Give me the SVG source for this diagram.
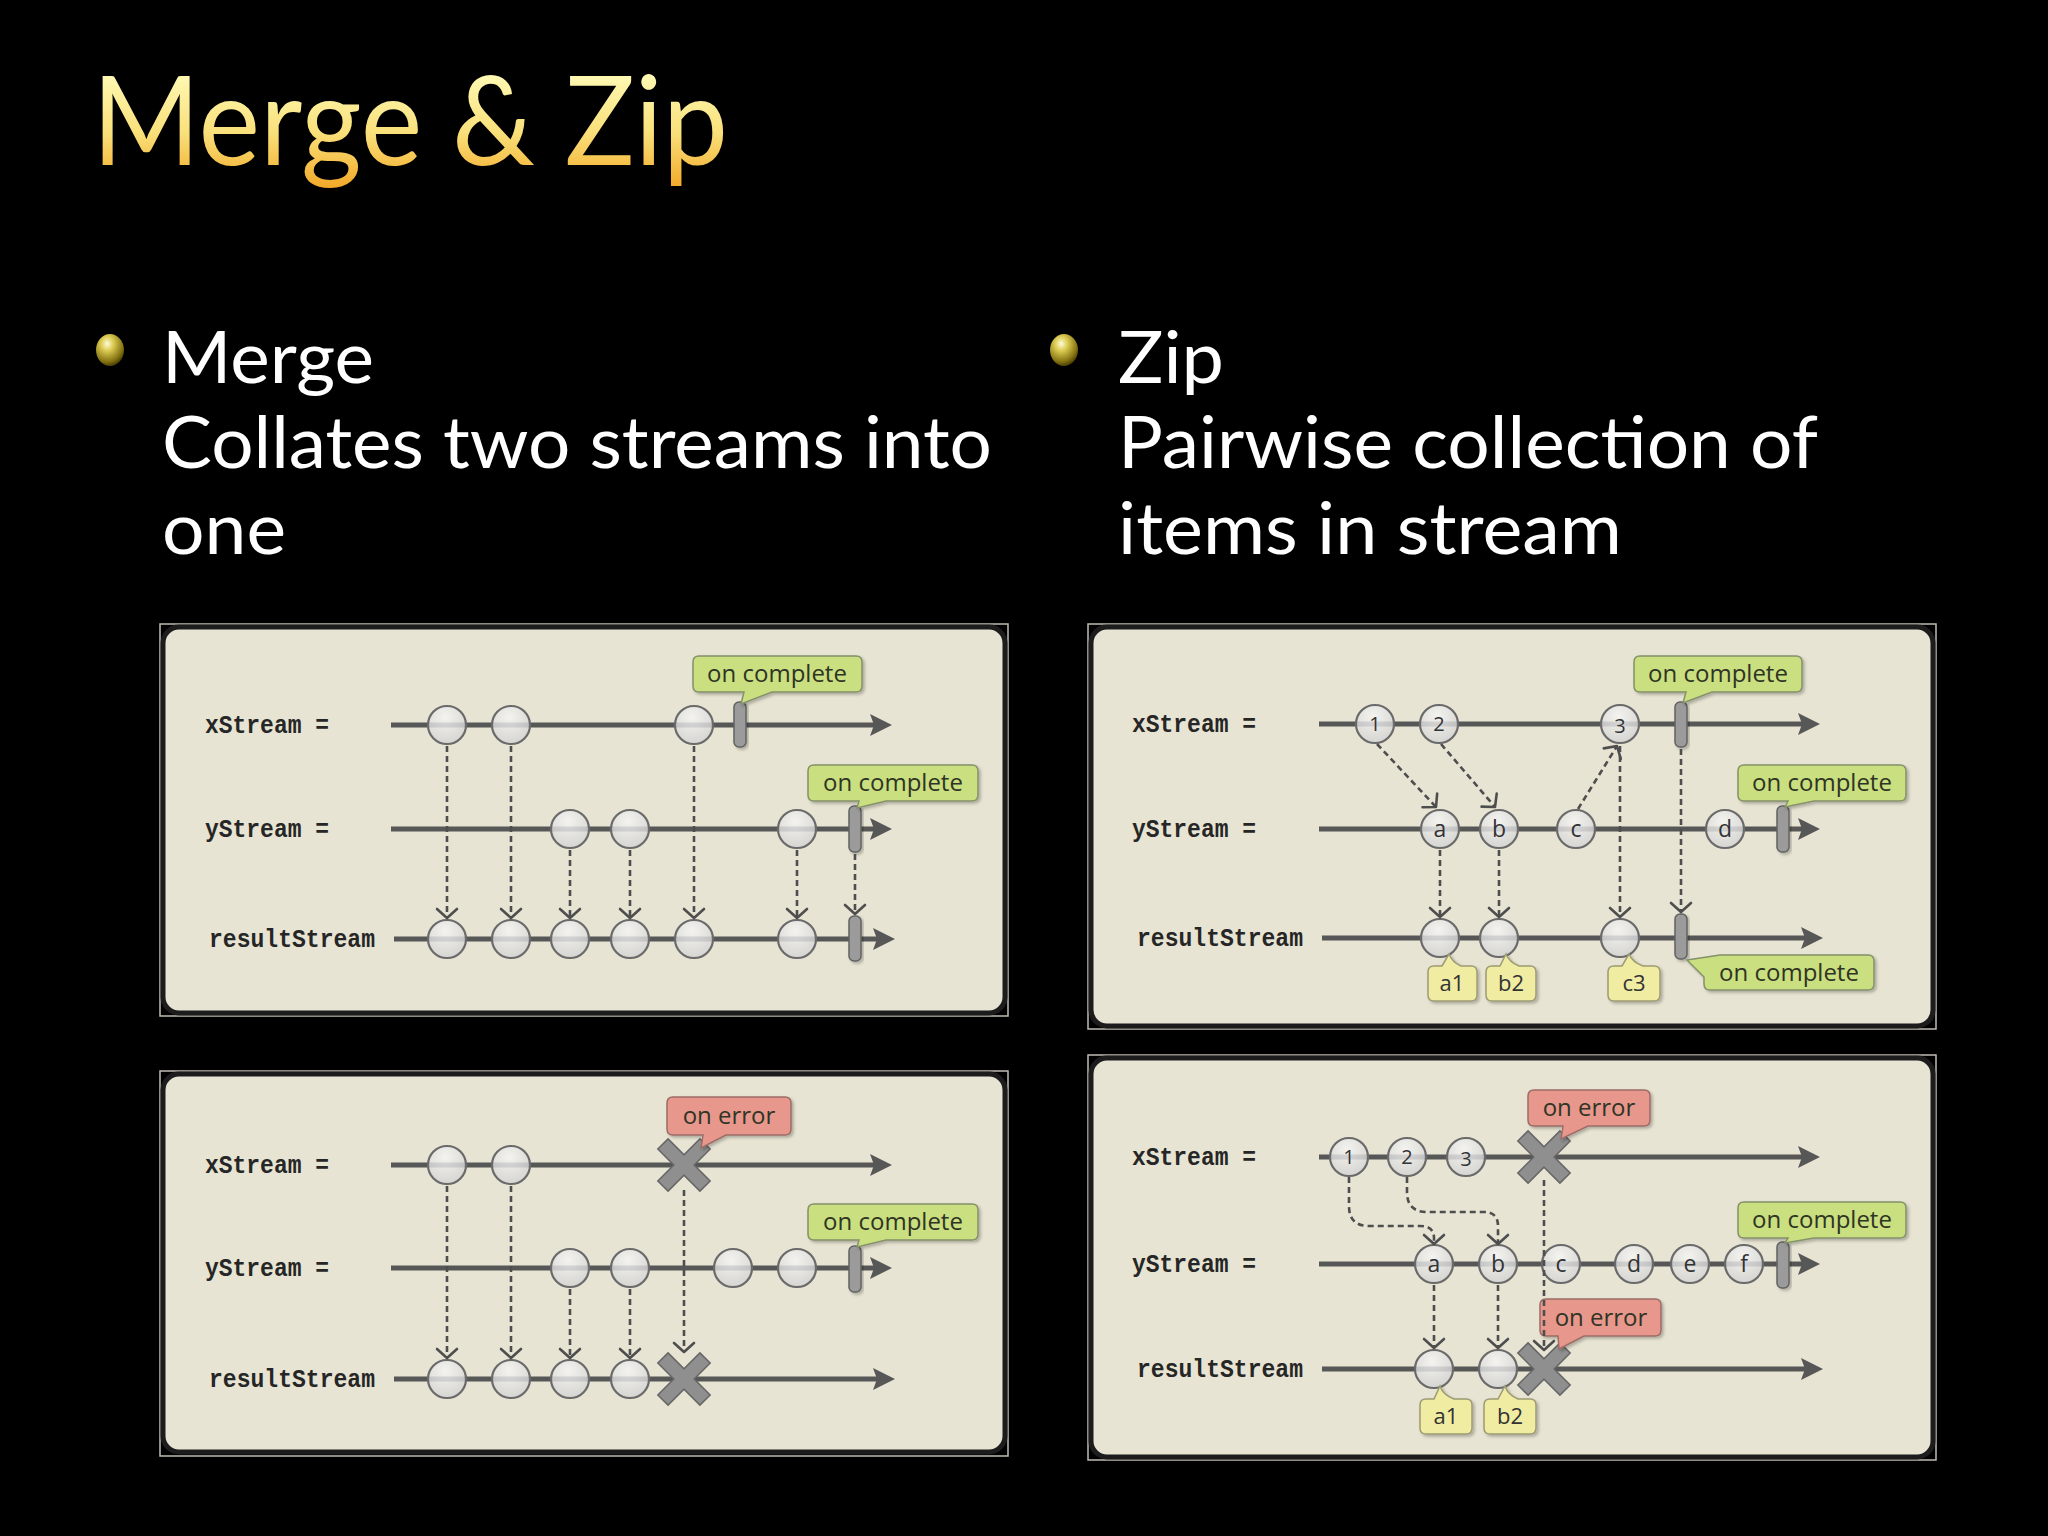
<svg xmlns="http://www.w3.org/2000/svg" xmlns:xlink="http://www.w3.org/1999/xlink" width="2048" height="1536" viewBox="0 0 2048 1536">
<defs>
<style>
.frame{fill:none;stroke:#bebcb3;stroke-width:1.5}
.panel{fill:#e7e4d3;stroke:#1c1c1c;stroke-width:5}
.stream{fill:none;stroke:#575757;stroke-width:5;marker-end:url(#arr)}
.dash{fill:none;stroke:#4e4e4e;stroke-width:2.6;stroke-dasharray:6 4;marker-end:url(#chev)}
.ev{fill:url(#evg);fill-opacity:0.82;stroke:#6a6a6a;stroke-width:2.2}
.bar{fill:#9b9b9b;stroke:#626262;stroke-width:1.5;filter:url(#sh)}
.co-g{fill:#cadf7f;stroke:#84916a;stroke-width:1.5;filter:url(#sh)}
.co-r{fill:#e8978d;stroke:#9c6c66;stroke-width:1.5;filter:url(#sh)}
.co-y{fill:#f0eda3;stroke:#9d9b74;stroke-width:1.5;filter:url(#sh)}
.lbl{font-family:"Liberation Mono","DejaVu Sans Mono",monospace;font-size:25px;font-weight:bold;fill:#262626}
.ct{font-family:"Open Sans","Liberation Sans",sans-serif;font-size:24px;fill:#2f3424;text-anchor:middle}
.yt{font-family:"Open Sans","Liberation Sans",sans-serif;font-size:22px;fill:#333;text-anchor:middle}
.et{font-family:"Open Sans","Liberation Sans",sans-serif;font-size:23px;fill:#333;text-anchor:middle}
.nt{font-family:"Open Sans","Liberation Sans",sans-serif;font-size:20px;fill:#333;text-anchor:middle}
.bt{font-family:Lato,"Open Sans","Liberation Sans",sans-serif;font-size:72px;fill:#ffffff}
.xo{fill:#8f8f8f;stroke:#666;stroke-width:3}
.xi{fill:#8f8f8f}
</style>
<linearGradient id="tg" x1="0" y1="70" x2="0" y2="195" gradientUnits="userSpaceOnUse">
<stop offset="0" stop-color="#fffbb8"/>
<stop offset="0.5" stop-color="#f9e07a"/>
<stop offset="1" stop-color="#f2a21e"/>
</linearGradient>
<radialGradient id="bg" cx="0.4" cy="0.3" r="0.75">
<stop offset="0" stop-color="#fffbd6"/>
<stop offset="0.3" stop-color="#dccb52"/>
<stop offset="0.75" stop-color="#857412"/>
<stop offset="1" stop-color="#3a3200"/>
</radialGradient>
<radialGradient id="evg" cx="0.45" cy="0.3" r="0.75">
<stop offset="0" stop-color="#f6f6f6"/>
<stop offset="1" stop-color="#cfcfcf"/>
</radialGradient>
<filter id="sh" x="-20%" y="-20%" width="140%" height="160%">
<feDropShadow dx="2" dy="2" stdDeviation="1.5" flood-color="#000" flood-opacity="0.25"/>
</filter>
<marker id="arr" markerUnits="userSpaceOnUse" markerWidth="24" markerHeight="24" viewBox="-12 -12 24 24" refX="0" refY="0" orient="auto">
<path d="M10,0 L-12,-11 L-8,0 L-12,11 Z" fill="#575757"/>
</marker>
<marker id="chev" markerUnits="userSpaceOnUse" markerWidth="26" markerHeight="26" viewBox="-13 -13 26 26" refX="0" refY="0" orient="auto">
<path d="M-9,-10 L0,0 L-9,10" fill="none" stroke="#4e4e4e" stroke-width="2.6" stroke-linejoin="round" stroke-linecap="round"/>
</marker>
<g id="xmark">
<rect class="xo" x="-6.5" y="-29" width="13" height="58" transform="rotate(45)"/>
<rect class="xo" x="-6.5" y="-29" width="13" height="58" transform="rotate(-45)"/>
<rect class="xi" x="-6.5" y="-29" width="13" height="58" transform="rotate(45)"/>
<rect class="xi" x="-6.5" y="-29" width="13" height="58" transform="rotate(-45)"/>
</g>
</defs>

<rect x="0" y="0" width="2048" height="1536" fill="#000"/>

<g id="title">
<text x="92" y="165" font-family="Lato,'Open Sans','Liberation Sans',sans-serif" font-size="125" fill="url(#tg)" textLength="636" lengthAdjust="spacingAndGlyphs">Merge &amp; Zip</text>
</g>

<g id="bullet-merge">
<ellipse cx="110" cy="350" rx="14" ry="16" fill="url(#bg)"/>
<text class="bt" x="162" y="383" textLength="212" lengthAdjust="spacingAndGlyphs">Merge</text>
<text class="bt" x="162" y="468" textLength="830" lengthAdjust="spacingAndGlyphs">Collates two streams into</text>
<text class="bt" x="162" y="554" textLength="124" lengthAdjust="spacingAndGlyphs">one</text>
</g>
<g id="bullet-zip">
<ellipse cx="1064" cy="350" rx="14" ry="16" fill="url(#bg)"/>
<text class="bt" x="1118" y="383" textLength="106" lengthAdjust="spacingAndGlyphs">Zip</text>
<text class="bt" x="1118" y="468" textLength="700" lengthAdjust="spacingAndGlyphs">Pairwise collection of</text>
<text class="bt" x="1118" y="554" textLength="504" lengthAdjust="spacingAndGlyphs">items in stream</text>
</g>

<!-- ============ Panel A: merge complete ============ -->
<g id="merge-complete">
<rect class="frame" x="160" y="624" width="848" height="392"/>
<rect class="panel" x="163" y="627" width="842" height="386" rx="16"/>
<text class="lbl" x="205" y="733" textLength="124" lengthAdjust="spacingAndGlyphs">xStream =</text>
<text class="lbl" x="205" y="837" textLength="124" lengthAdjust="spacingAndGlyphs">yStream =</text>
<text class="lbl" x="209" y="947" textLength="166" lengthAdjust="spacingAndGlyphs">resultStream</text>
<g id="mc-streams">
<path class="stream" d="M391,725 H882"/>
<path class="stream" d="M391,829 H882"/>
<path class="stream" d="M394,939 H885"/>
</g>
<g id="mc-x1"><circle class="ev" cx="447" cy="725" r="19"/></g>
<g id="mc-x2"><circle class="ev" cx="511" cy="725" r="19"/></g>
<g id="mc-x3"><circle class="ev" cx="694" cy="725" r="19"/></g>
<g id="mc-xend"><rect class="bar" x="734" y="702" width="12" height="45" rx="5"/></g>
<g id="mc-y1"><circle class="ev" cx="570" cy="829" r="19"/></g>
<g id="mc-y2"><circle class="ev" cx="630" cy="829" r="19"/></g>
<g id="mc-y3"><circle class="ev" cx="797" cy="829" r="19"/></g>
<g id="mc-yend"><rect class="bar" x="849" y="806" width="12" height="46" rx="5"/></g>
<g id="mc-r1"><circle class="ev" cx="447" cy="939" r="19"/></g>
<g id="mc-r2"><circle class="ev" cx="511" cy="939" r="19"/></g>
<g id="mc-r3"><circle class="ev" cx="570" cy="939" r="19"/></g>
<g id="mc-r4"><circle class="ev" cx="630" cy="939" r="19"/></g>
<g id="mc-r5"><circle class="ev" cx="694" cy="939" r="19"/></g>
<g id="mc-r6"><circle class="ev" cx="797" cy="939" r="19"/></g>
<g id="mc-rend"><rect class="bar" x="849" y="916" width="12" height="45" rx="5"/></g>
<g id="mc-cx">
<path class="co-g" d="M699,656 H856 Q862,656 862,662 V686 Q862,692 856,692 H772 L741,704 L744,692 H699 Q693,692 693,686 V662 Q693,656 699,656 Z"/>
<text class="ct" x="777" y="682">on complete</text>
</g>
<g id="mc-cy">
<path class="co-g" d="M814,765 H972 Q978,765 978,771 V795 Q978,801 972,801 H886 L857,808 L859,801 H814 Q808,801 808,795 V771 Q808,765 814,765 Z"/>
<text class="ct" x="893" y="791">on complete</text>
</g>
<g id="mc-connectors">
<path class="dash" d="M447,746 V918"/>
<path class="dash" d="M511,746 V918"/>
<path class="dash" d="M694,746 V918"/>
<path class="dash" d="M570,850 V918"/>
<path class="dash" d="M630,850 V918"/>
<path class="dash" d="M797,850 V918"/>
<path class="dash" d="M855,854 V914"/>
</g>
</g>

<!-- ============ Panel C: merge error ============ -->
<g id="merge-error">
<rect class="frame" x="160" y="1071" width="848" height="385"/>
<rect class="panel" x="163" y="1074" width="842" height="378" rx="16"/>
<text class="lbl" x="205" y="1173" textLength="124" lengthAdjust="spacingAndGlyphs">xStream =</text>
<text class="lbl" x="205" y="1276" textLength="124" lengthAdjust="spacingAndGlyphs">yStream =</text>
<text class="lbl" x="209" y="1387" textLength="166" lengthAdjust="spacingAndGlyphs">resultStream</text>
<g id="me-streams">
<path class="stream" d="M391,1165 H882"/>
<path class="stream" d="M391,1268 H882"/>
<path class="stream" d="M394,1379 H885"/>
</g>
<g id="me-x1"><circle class="ev" cx="447" cy="1165" r="19"/></g>
<g id="me-x2"><circle class="ev" cx="511" cy="1165" r="19"/></g>
<g id="me-xerr"><use xlink:href="#xmark" href="#xmark" transform="translate(684,1165)"/></g>
<g id="me-y1"><circle class="ev" cx="570" cy="1268" r="19"/></g>
<g id="me-y2"><circle class="ev" cx="630" cy="1268" r="19"/></g>
<g id="me-y3"><circle class="ev" cx="733" cy="1268" r="19"/></g>
<g id="me-y4"><circle class="ev" cx="797" cy="1268" r="19"/></g>
<g id="me-yend"><rect class="bar" x="849" y="1246" width="12" height="46" rx="5"/></g>
<g id="me-r1"><circle class="ev" cx="447" cy="1379" r="19"/></g>
<g id="me-r2"><circle class="ev" cx="511" cy="1379" r="19"/></g>
<g id="me-r3"><circle class="ev" cx="570" cy="1379" r="19"/></g>
<g id="me-r4"><circle class="ev" cx="630" cy="1379" r="19"/></g>
<g id="me-rerr"><use xlink:href="#xmark" href="#xmark" transform="translate(684,1379)"/></g>
<g id="me-cerr">
<path class="co-r" d="M673,1097 H785 Q791,1097 791,1103 V1129 Q791,1135 785,1135 H726 L701,1148 L703,1135 H673 Q667,1135 667,1129 V1103 Q667,1097 673,1097 Z"/>
<text class="ct" x="729" y="1124">on error</text>
</g>
<g id="me-cy">
<path class="co-g" d="M814,1204 H972 Q978,1204 978,1210 V1234 Q978,1240 972,1240 H886 L857,1247 L859,1240 H814 Q808,1240 808,1234 V1210 Q808,1204 814,1204 Z"/>
<text class="ct" x="893" y="1230">on complete</text>
</g>
<g id="me-connectors">
<path class="dash" d="M447,1186 V1358"/>
<path class="dash" d="M511,1186 V1358"/>
<path class="dash" d="M570,1289 V1358"/>
<path class="dash" d="M630,1289 V1358"/>
<path class="dash" d="M684,1190 V1352"/>
</g>
</g>

<!-- ============ Panel B: zip complete ============ -->
<g id="zip-complete">
<rect class="frame" x="1088" y="624" width="848" height="405"/>
<rect class="panel" x="1091" y="627" width="842" height="399" rx="16"/>
<text class="lbl" x="1132" y="732" textLength="124" lengthAdjust="spacingAndGlyphs">xStream =</text>
<text class="lbl" x="1132" y="837" textLength="124" lengthAdjust="spacingAndGlyphs">yStream =</text>
<text class="lbl" x="1137" y="946" textLength="166" lengthAdjust="spacingAndGlyphs">resultStream</text>
<g id="zc-streams">
<path class="stream" d="M1319,724 H1810"/>
<path class="stream" d="M1319,829 H1810"/>
<path class="stream" d="M1322,938 H1813"/>
</g>
<g id="zc-x1"><circle class="ev" cx="1375" cy="724" r="19"/><text class="nt" x="1375" y="731">1</text></g>
<g id="zc-x2"><circle class="ev" cx="1439" cy="724" r="19"/><text class="nt" x="1439" y="731">2</text></g>
<g id="zc-x3"><circle class="ev" cx="1620" cy="724" r="19"/><text class="nt" x="1620" y="733">3</text></g>
<g id="zc-xend"><rect class="bar" x="1675" y="702" width="12" height="45" rx="5"/></g>
<g id="zc-ya"><circle class="ev" cx="1440" cy="829" r="19"/><text class="et" x="1440" y="837">a</text></g>
<g id="zc-yb"><circle class="ev" cx="1499" cy="829" r="19"/><text class="et" x="1499" y="837">b</text></g>
<g id="zc-yc"><circle class="ev" cx="1576" cy="829" r="19"/><text class="et" x="1576" y="837">c</text></g>
<g id="zc-yd"><circle class="ev" cx="1725" cy="829" r="19"/><text class="et" x="1725" y="837">d</text></g>
<g id="zc-yend"><rect class="bar" x="1777" y="806" width="12" height="46" rx="5"/></g>
<g id="zc-r1"><circle class="ev" cx="1440" cy="938" r="19"/></g>
<g id="zc-r2"><circle class="ev" cx="1499" cy="938" r="19"/></g>
<g id="zc-r3"><circle class="ev" cx="1620" cy="938" r="19"/></g>
<g id="zc-rend"><rect class="bar" x="1675" y="914" width="12" height="45" rx="5"/></g>
<g id="zc-cx">
<path class="co-g" d="M1640,656 H1796 Q1802,656 1802,662 V686 Q1802,692 1796,692 H1712 L1683,703 L1686,692 H1640 Q1634,692 1634,686 V662 Q1634,656 1640,656 Z"/>
<text class="ct" x="1718" y="682">on complete</text>
</g>
<g id="zc-cy">
<path class="co-g" d="M1744,765 H1900 Q1906,765 1906,771 V795 Q1906,801 1900,801 H1814 L1785,807 L1788,801 H1744 Q1738,801 1738,795 V771 Q1738,765 1744,765 Z"/>
<text class="ct" x="1822" y="791">on complete</text>
</g>
<g id="zc-cr">
<path class="co-g" d="M1720,955 H1868 Q1874,955 1874,961 V984 Q1874,990 1868,990 H1710 Q1704,990 1704,984 V977 L1687,960 Z"/>
<text class="ct" x="1789" y="981">on complete</text>
</g>
<g id="zc-a1">
<path class="co-y" d="M1434,966 H1442 L1449,954 Q1452,962 1461,966 H1471 Q1477,966 1477,972 V995 Q1477,1001 1471,1001 H1434 Q1428,1001 1428,995 V972 Q1428,966 1434,966 Z"/>
<text class="yt" x="1452" y="991">a1</text>
</g>
<g id="zc-b2">
<path class="co-y" d="M1492,966 H1500 L1506,954 Q1509,962 1519,966 H1530 Q1536,966 1536,972 V995 Q1536,1001 1530,1001 H1492 Q1486,1001 1486,995 V972 Q1486,966 1492,966 Z"/>
<text class="yt" x="1511" y="991">b2</text>
</g>
<g id="zc-c3">
<path class="co-y" d="M1614,966 H1622 L1629,954 Q1632,962 1643,966 H1654 Q1660,966 1660,972 V995 Q1660,1001 1654,1001 H1614 Q1608,1001 1608,995 V972 Q1608,966 1614,966 Z"/>
<text class="yt" x="1634" y="991">c3</text>
</g>
<g id="zc-connectors">
<path class="dash" d="M1377,744 L1436,807"/>
<path class="dash" d="M1441,744 L1495,807"/>
<path class="dash" d="M1578,809 L1617,746"/>
<path class="dash" d="M1620,746 V917"/>
<path class="dash" d="M1681,749 V912"/>
<path class="dash" d="M1440,850 V917"/>
<path class="dash" d="M1499,850 V917"/>
</g>
</g>

<!-- ============ Panel D: zip error ============ -->
<g id="zip-error">
<rect class="frame" x="1088" y="1055" width="848" height="405"/>
<rect class="panel" x="1091" y="1058" width="842" height="399" rx="16"/>
<text class="lbl" x="1132" y="1165" textLength="124" lengthAdjust="spacingAndGlyphs">xStream =</text>
<text class="lbl" x="1132" y="1272" textLength="124" lengthAdjust="spacingAndGlyphs">yStream =</text>
<text class="lbl" x="1137" y="1377" textLength="166" lengthAdjust="spacingAndGlyphs">resultStream</text>
<g id="ze-streams">
<path class="stream" d="M1319,1157 H1810"/>
<path class="stream" d="M1319,1264 H1810"/>
<path class="stream" d="M1322,1369 H1813"/>
</g>
<g id="ze-x1"><circle class="ev" cx="1349" cy="1157" r="19"/><text class="nt" x="1349" y="1164">1</text></g>
<g id="ze-x2"><circle class="ev" cx="1407" cy="1157" r="19"/><text class="nt" x="1407" y="1164">2</text></g>
<g id="ze-x3"><circle class="ev" cx="1466" cy="1157" r="19"/><text class="nt" x="1466" y="1166">3</text></g>
<g id="ze-xerr"><use xlink:href="#xmark" href="#xmark" transform="translate(1544,1157)"/></g>
<g id="ze-ya"><circle class="ev" cx="1434" cy="1264" r="19"/><text class="et" x="1434" y="1272">a</text></g>
<g id="ze-yb"><circle class="ev" cx="1498" cy="1264" r="19"/><text class="et" x="1498" y="1272">b</text></g>
<g id="ze-yc"><circle class="ev" cx="1561" cy="1264" r="19"/><text class="et" x="1561" y="1272">c</text></g>
<g id="ze-yd"><circle class="ev" cx="1634" cy="1264" r="19"/><text class="et" x="1634" y="1272">d</text></g>
<g id="ze-ye"><circle class="ev" cx="1690" cy="1264" r="19"/><text class="et" x="1690" y="1272">e</text></g>
<g id="ze-yf"><circle class="ev" cx="1744" cy="1264" r="19"/><text class="et" x="1744" y="1272">f</text></g>
<g id="ze-yend"><rect class="bar" x="1777" y="1242" width="12" height="46" rx="5"/></g>
<g id="ze-r1"><circle class="ev" cx="1434" cy="1369" r="19"/></g>
<g id="ze-r2"><circle class="ev" cx="1498" cy="1369" r="19"/></g>
<g id="ze-rerr"><use xlink:href="#xmark" href="#xmark" transform="translate(1544,1369)"/></g>
<g id="ze-cerr1">
<path class="co-r" d="M1534,1090 H1644 Q1650,1090 1650,1096 V1120 Q1650,1126 1644,1126 H1588 L1561,1139 L1563,1126 H1534 Q1528,1126 1528,1120 V1096 Q1528,1090 1534,1090 Z"/>
<text class="ct" x="1589" y="1116">on error</text>
</g>
<g id="ze-cy">
<path class="co-g" d="M1744,1202 H1900 Q1906,1202 1906,1208 V1232 Q1906,1238 1900,1238 H1814 L1785,1243 L1788,1238 H1744 Q1738,1238 1738,1232 V1208 Q1738,1202 1744,1202 Z"/>
<text class="ct" x="1822" y="1228">on complete</text>
</g>
<g id="ze-cerr2">
<path class="co-r" d="M1546,1299 H1655 Q1661,1299 1661,1305 V1330 Q1661,1336 1655,1336 H1584 L1559,1349 L1558,1336 H1546 Q1540,1336 1540,1330 V1305 Q1540,1299 1546,1299 Z"/>
<text class="ct" x="1601" y="1326">on error</text>
</g>
<g id="ze-a1">
<path class="co-y" d="M1426,1399 H1434 L1440,1386 Q1443,1395 1454,1399 H1466 Q1472,1399 1472,1405 V1428 Q1472,1434 1466,1434 H1426 Q1420,1434 1420,1428 V1405 Q1420,1399 1426,1399 Z"/>
<text class="yt" x="1446" y="1424">a1</text>
</g>
<g id="ze-b2">
<path class="co-y" d="M1490,1399 H1498 L1505,1386 Q1508,1395 1518,1399 H1530 Q1536,1399 1536,1405 V1428 Q1536,1434 1530,1434 H1490 Q1484,1434 1484,1428 V1405 Q1484,1399 1490,1399 Z"/>
<text class="yt" x="1510" y="1424">b2</text>
</g>
<g id="ze-connectors">
<path class="dash" d="M1349,1177 V1206 Q1349,1226 1369,1226 H1420 Q1434,1226 1434,1238 V1244"/>
<path class="dash" d="M1407,1177 V1192 Q1407,1212 1427,1212 H1484 Q1498,1212 1498,1226 V1244"/>
<path class="dash" d="M1544,1180 V1350"/>
<path class="dash" d="M1434,1285 V1348"/>
<path class="dash" d="M1498,1285 V1348"/>
</g>
</g>
</svg>
